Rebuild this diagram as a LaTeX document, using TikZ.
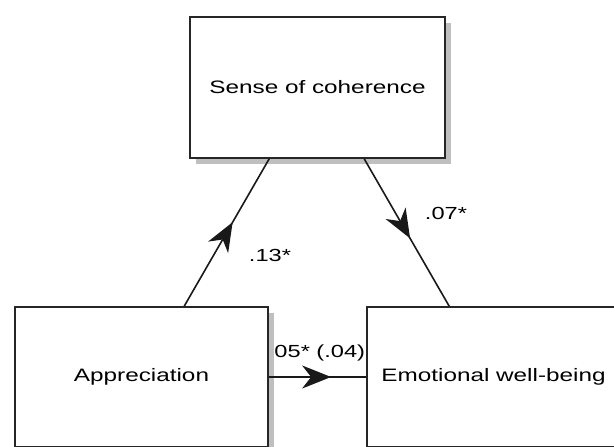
\documentclass[tikz,border=0pt]{standalone}
\usepackage{fontspec}
\setmainfont{Liberation Sans}[FakeStretch=1.35]
\usetikzlibrary{arrows.meta,decorations.markings,shadows,calc}

\begin{document}
\begin{tikzpicture}
[
x=1pt, y=-1pt,
varbox/.style={rectangle, draw=black!85, line width=1.6pt, fill=white, minimum width=253pt, minimum height=140pt, inner sep=0pt, font=\fontsize{18}{20}\selectfont, drop shadow={shadow xshift=6pt, shadow yshift=-6pt, fill=black!25, opacity=1}},
pathline/.style={draw=black!90, line width=1.6pt},
midarrow/.style={postaction={decorate}, decoration={markings, mark=at position #1 with {\arrow{Stealth[length=29pt, width=23pt, inset=9pt]}}}},
coefnode/.style={font=\fontsize{17.5}{19}\selectfont, inner sep=0pt}
]
\useasboundingbox (0,0) rectangle (614,447);
\clip (0,0) rectangle (614,447);
%Labels
\node[coefnode] at(270,255)	(c1) {.13*};
\node[coefnode] at(446,213)	(c2) {.07*};
\node[coefnode] at(316.5,353)	(c3) {.05* (.04)};
%Nodes
\node[varbox, minimum width=255pt, minimum height=141pt] at(317.5,87.5)	(soc) {Sense of coherence};
\node[varbox] at(141.5,377)	(app) {Appreciation};
\node[varbox] at(493.5,377)	(ewb) {Emotional well-being};
%Paths
\draw[pathline, midarrow=0.57] ($(app.north west)+(170,0)$) -- ($(soc.south west)+(80,0)$);
\draw[pathline, midarrow=0.54] ($(soc.south west)+(175,0)$) -- ($(ewb.north west)+(83,0)$);
\draw[pathline, midarrow=0.64] (app) -- (ewb);
\end{tikzpicture}
\end{document}
